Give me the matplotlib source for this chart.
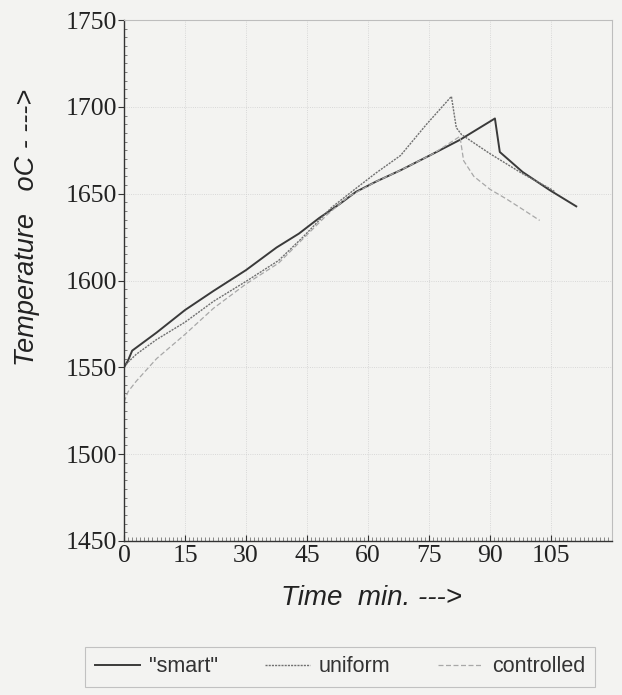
import matplotlib
matplotlib.use("Agg")
import matplotlib.pyplot as plt
from matplotlib.ticker import MultipleLocator

# ---- data ----
smart_t = [0, 1, 2, 8, 15, 22, 30, 37.5, 43, 48, 53, 57, 62, 68, 76, 82.6, 91.2, 92.4, 98, 104.7, 111.2]
smart_T = [1550, 1554, 1559.6, 1570, 1583, 1594, 1606, 1619, 1627, 1636, 1644, 1651, 1657, 1663.5, 1673, 1681, 1693.3, 1674, 1662.5, 1652, 1642.7]

uniform_t = [0, 1, 3, 8, 15, 22, 30, 38, 44, 51, 57, 62, 68, 74.4, 80.5, 81.7, 83, 90, 98, 104.7, 106]
uniform_T = [1550, 1553, 1557.5, 1566, 1576, 1588, 1599.5, 1611.5, 1625, 1642, 1653, 1662, 1672, 1690, 1706, 1688, 1684, 1673, 1661.5, 1653, 1651]

controlled_t = [0, 1, 3, 8, 15, 22, 30, 38, 44, 50, 55, 62, 68, 76, 82.6, 83.5, 86, 90, 94, 98, 102.2]
controlled_T = [1530, 1536, 1542, 1555, 1569, 1584, 1598, 1610, 1624, 1638, 1648, 1657, 1663.5, 1673, 1683, 1669, 1660, 1652.5, 1647, 1641, 1634.6]

x_ticks = [0, 15, 30, 45, 60, 75, 90, 105]
y_ticks = [1450, 1500, 1550, 1600, 1650, 1700, 1750]
legend_labels = ['"smart"', 'uniform', 'controlled']

bg = '#f3f3f1'
fig = plt.figure(figsize=(6.22, 6.95), dpi=100, facecolor=bg)
ax = fig.add_axes([0.1994, 0.2216, 0.7846, 0.7496])
ax.set_facecolor(bg)

l1, = ax.plot(smart_t, smart_T, color='#3a3a3a', lw=1.4, ls='-')
l2, = ax.plot(uniform_t, uniform_T, color='#707070', lw=1.0, ls=(0, (1.5, 0.8)))
l3, = ax.plot(controlled_t, controlled_T, color='#a8a8a8', lw=0.9, ls=(0, (4, 2)))

ax.set_xlim(0, 120)
ax.set_ylim(1450, 1750)
ax.set_xticks(x_ticks)
ax.set_yticks(y_ticks)
ax.xaxis.set_minor_locator(MultipleLocator(1))
ax.yaxis.set_minor_locator(MultipleLocator(5))
ax.grid(True, which='major', color='#cfcfcf', lw=0.6, ls=':')
ax.set_axisbelow(True)

serif = 'Liberation Serif'
for lab in ax.get_xticklabels() + ax.get_yticklabels():
    lab.set_fontfamily(serif)
    lab.set_fontsize(18.5)
    lab.set_color('#222222')

ax.tick_params(axis='y', which='major', direction='out', length=4, color='#333333', pad=1)
ax.tick_params(axis='y', which='minor', direction='in', length=2, color='#666666')
ax.tick_params(axis='x', which='major', direction='in', length=4, color='#333333', pad=3)
ax.tick_params(axis='x', which='minor', direction='in', length=3, color='#777777', width=0.6)

for s in ['left', 'bottom']:
    ax.spines[s].set_color('#333333')
    ax.spines[s].set_linewidth(1.0)
for s in ['top', 'right']:
    ax.spines[s].set_color('#bdbdbd')
    ax.spines[s].set_linewidth(0.8)

fig.text(371.5 / 622, 1 - 598 / 695, 'Time  min. --->', family='Liberation Sans',
         style='italic', fontsize=20, color='#222222', ha='center', va='center')
fig.text(27 / 622, 1 - 227 / 695, 'Temperature   oC - --->', family='Liberation Sans',
         style='italic', fontsize=19.5, color='#222222', ha='center', va='center',
         rotation=90)

leg = fig.legend([l1, l2, l3], legend_labels, loc='center', ncol=3,
                 bbox_to_anchor=(340 / 622, 1 - 667 / 695), frameon=True, fancybox=False,
                 prop={'family': 'Liberation Sans', 'size': 15.5},
                 handlelength=2.1, columnspacing=2.2, handletextpad=0.4,
                 borderpad=0.45, borderaxespad=0)
leg.get_frame().set_edgecolor('#b5b5b5')
leg.get_frame().set_facecolor(bg)
leg.get_frame().set_linewidth(0.8)
for t in leg.get_texts():
    t.set_color('#333333')

fig.savefig('out.png', dpi=100, facecolor=bg)
